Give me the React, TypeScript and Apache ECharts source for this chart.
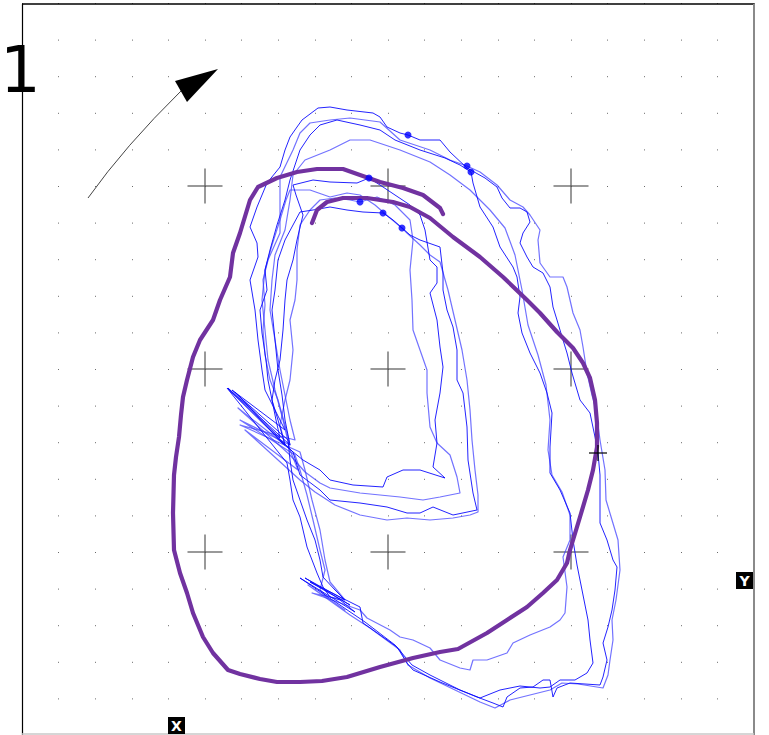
import React, { useEffect, useRef } from "react";
import * as echarts from "echarts";

// Axis frame (units: centred on the middle cross, 36.6 units per grid dot)
const axisMin = -366;
const axisMax = 366;
const dotStep = 36.6;

// Reference crosses
const crossX = [-183, 0, 183];
const crossY = [183, 0, -183];

// Small black marker cross
const markerPoint = [[210, -84]];

// Start dots of the blue traces
const startDots = [
  [20, 234], [79, 203], [83, 197], [-19, 191], [-28, 167], [-5, 156], [14, 141],
];

// Thick purple target path
const purplePath = [
  [55, 155], [52, 161], [35, 174], [15, 181], [-8, 187], [-28, 194], [-45, 200], [-71, 200],
  [-91, 197], [-111, 191], [-130, 182], [-138, 169], [-148, 136], [-155, 116], [-158, 92],
  [-168, 69], [-175, 49], [-188, 29], [-195, 12], [-201, -11], [-205, -28], [-207, -46],
  [-209, -68], [-212, -88], [-214, -106], [-215, -144], [-214, -181], [-208, -204],
  [-201, -224], [-195, -244], [-185, -268], [-175, -284], [-160, -301], [-148, -305],
  [-128, -310], [-111, -313], [-88, -313], [-66, -312], [-41, -308], [-8, -298], [25, -289],
  [52, -283], [70, -280], [99, -264], [119, -251], [139, -238], [155, -224], [169, -211],
  [179, -194], [182, -181], [192, -148], [200, -121], [205, -101], [209, -78], [209, -54],
  [207, -31], [202, -9], [195, 6], [185, 21], [169, 37], [152, 56], [139, 69], [115, 92],
  [92, 112], [65, 132], [42, 151], [22, 162], [5, 167], [-21, 171], [-45, 171], [-61, 167],
  [-71, 159], [-76, 146],
];

// Blue recorded traces – outer loops
const outer1 = [
  [20, 234], [32, 229], [52, 229], [62, 217], [79, 201], [97, 191], [109, 182], [114, 171],
  [122, 161], [132, 161], [139, 157], [142, 147], [135, 136], [132, 126], [139, 112],
  [145, 102], [155, 96], [162, 82], [165, 62], [169, 49], [175, 29], [179, 16], [184, -4],
  [192, -31], [202, -44], [207, -68], [210, -84], [212, -106], [212, -154], [219, -171],
  [225, -191], [229, -198], [227, -221], [224, -241], [220, -258], [215, -274], [219, -291],
  [215, -308], [212, -316], [182, -314], [169, -319], [165, -328], [162, -311], [155, -311],
  [145, -318], [132, -319], [119, -328], [115, -338], [105, -334], [89, -328], [52, -313],
  [25, -301], [19, -294], [9, -278], [-25, -254], [-28, -238], [-78, -213], [-38, -236],
  [-83, -209], [-43, -231], [-53, -221], [-65, -208], [-68, -191], [-73, -171], [-81, -151],
  [-88, -131], [-95, -111], [-98, -91], [-100, -71], [-156, -21], [-103, -61], [-113, -41],
  [-123, -21], [-126, -1], [-130, 29], [-133, 59], [-138, 89], [-130, 112], [-131, 126],
  [-138, 142], [-131, 162], [-121, 186], [-108, 202], [-103, 219], [-98, 232], [-91, 242],
  [-86, 249], [-70, 261], [-58, 262], [-41, 259], [-15, 256], [-8, 252], [-1, 242],
  [12, 236], [20, 234],
];
const outer2 = [
  [79, 203], [92, 197], [109, 184], [122, 169], [135, 162], [142, 154], [152, 139],
  [150, 129], [152, 106], [162, 92], [175, 92], [179, 82], [185, 56], [192, 39], [195, 22],
  [199, -4], [204, -26], [208, -41], [212, -71], [217, -101], [218, -131], [224, -151],
  [230, -171], [232, -201], [228, -231], [224, -251], [225, -271], [222, -291], [220, -306],
  [215, -319], [190, -315], [174, -314], [162, -321], [142, -326], [122, -331], [107, -339],
  [92, -333], [67, -321], [42, -309], [20, -296], [12, -281], [-18, -259], [-38, -246],
  [-80, -216], [-43, -241], [-58, -231], [-68, -221], [-63, -201], [-68, -181], [-75, -151],
  [-81, -126], [-88, -101], [-93, -86], [-148, -51], [-98, -76], [-103, -56], [-110, -31],
  [-118, -11], [-123, 14], [-125, 39], [-123, 64], [-125, 89], [-120, 109], [-108, 136],
  [-108, 169], [-108, 192], [-95, 219], [-88, 236], [-78, 246], [-58, 249], [-38, 251],
  [-8, 247], [12, 229], [42, 219], [62, 209], [79, 203],
];
const outer3 = [
  [83, 197], [85, 186], [92, 162], [105, 142], [112, 122], [125, 102], [129, 92], [132, 72],
  [130, 56], [134, 36], [142, 16], [152, -4], [159, -24], [164, -44], [162, -78], [162, -104],
  [172, -121], [182, -144], [185, -171], [189, -196], [194, -221], [200, -251], [202, -271],
  [205, -294], [199, -304], [187, -311], [172, -311], [162, -318], [152, -319], [132, -317],
  [112, -321], [92, -329], [72, -321], [42, -306], [24, -296], [7, -276], [-23, -253],
  [-88, -209], [-33, -243], [-48, -231], [-58, -228], [-65, -218], [-71, -204], [-81, -178],
  [-88, -148], [-95, -131], [-98, -111], [-101, -94], [-161, -19], [-103, -76], [-110, -51],
  [-116, -31], [-120, -11], [-122, 9], [-126, 36], [-128, 59], [-121, 79], [-123, 99],
  [-118, 119], [-111, 144], [-103, 169], [-98, 189], [-88, 219], [-78, 234], [-68, 244],
  [-51, 249], [-28, 244], [-8, 239], [7, 229], [32, 219], [57, 211], [72, 204], [83, 197],
];
const outer4 = [
  [-58, 219], [-38, 229], [-18, 229], [12, 219], [42, 207], [62, 194], [82, 179], [102, 159],
  [117, 141], [127, 114], [134, 79], [140, 44], [150, 14], [158, -16], [162, -51], [160, -81],
  [164, -106], [174, -123], [182, -146], [182, -171], [175, -188], [179, -218], [177, -244],
  [172, -251], [162, -258], [142, -266], [125, -274], [119, -284], [99, -291], [85, -291],
  [82, -301], [72, -299], [52, -291], [42, -279], [25, -271], [12, -268], [2, -261],
  [-21, -249], [-28, -241], [-76, -224], [-43, -231], [-58, -213], [-63, -191], [-68, -161],
  [-76, -131], [-83, -101], [-88, -83], [-148, -56], [-93, -71], [-98, -51], [-103, -26],
  [-108, -1], [-113, 29], [-118, 59], [-116, 89], [-113, 114], [-103, 139], [-98, 169],
  [-95, 194], [-83, 209], [-58, 219],
];

// Blue recorded traces – inner loops
const inner1 = [
  [-19, 191], [-8, 184], [7, 174], [22, 164], [32, 154], [37, 139], [42, 109], [49, 102],
  [49, 86], [42, 76], [49, 49], [52, 22], [55, 2], [52, -24], [47, -51], [49, -74], [45, -98],
  [57, -109], [32, -101], [15, -101], [-1, -108], [-5, -118], [-35, -116], [-58, -111],
  [-68, -101], [-85, -91], [-106, -74], [-153, -23], [-108, -69], [-112, -51], [-116, -31],
  [-113, -11], [-108, 9], [-105, 39], [-103, 69], [-101, 89], [-95, 109], [-91, 129],
  [-85, 154], [-92, 174], [-95, 184], [-75, 189], [-58, 187], [-31, 186], [-19, 191],
];
const inner2 = [
  [-28, 167], [-21, 169], [-11, 172], [7, 164], [22, 149], [25, 129], [22, 99], [24, 69],
  [25, 39], [32, 19], [39, -1], [39, -24], [42, -58], [49, -74], [62, -86], [69, -108],
  [72, -124], [52, -128], [35, -131], [12, -128], [-28, -124], [-58, -119], [-68, -114],
  [-83, -103], [-98, -86], [-150, -39], [-103, -76], [-108, -56], [-103, -31], [-98, -11],
  [-95, 19], [-98, 49], [-93, 69], [-91, 89], [-91, 119], [-88, 144], [-78, 159], [-68, 169],
  [-53, 171], [-38, 169], [-28, 167],
];
const inner3 = [
  [-5, 156], [5, 149], [14, 141], [22, 134], [32, 129], [52, 122], [55, 96], [55, 79],
  [59, 59], [65, 42], [69, 19], [69, -11], [75, -24], [79, -58], [80, -91], [85, -124],
  [89, -141], [65, -146], [45, -138], [32, -144], [19, -144], [-1, -138], [-28, -134],
  [-58, -131], [-68, -121], [-88, -106], [-95, -83], [-160, -19], [-98, -76], [-103, -51],
  [-106, -26], [-110, -1], [-113, 29], [-116, 59], [-113, 79], [-110, 109], [-103, 129],
  [-95, 144], [-88, 157], [-75, 159], [-58, 162], [-41, 159], [-25, 157], [-5, 156],
];
const inner4 = [
  [14, 141], [19, 136], [32, 124], [42, 114], [52, 107], [60, 79], [67, 49], [74, 19],
  [79, -11], [82, -41], [84, -71], [87, -101], [90, -126], [90, -143], [82, -146], [65, -149],
  [42, -151], [19, -149], [-1, -151], [-28, -146], [-53, -136], [-73, -123], [-88, -111],
  [-143, -61], [-90, -101], [-98, -81], [-105, -51], [-113, -21], [-120, 9], [-123, 39],
  [-126, 69], [-123, 99], [-116, 124], [-108, 149], [-102, 169], [-98, 179], [-78, 179],
  [-58, 172], [-41, 176], [-28, 174], [-13, 164], [2, 151], [14, 141],
];

const darkTraces = [outer1, outer3, inner1, inner3];
const lightTraces = [outer2, outer4, inner2, inner4];

export default function App() {
  const ref = useRef<HTMLDivElement>(null);

  useEffect(() => {
    if (!ref.current) return;
    const chart = echarts.init(ref.current, undefined, { renderer: "svg" });

    const crossPts: number[][] = [];
    crossX.forEach((x) => crossY.forEach((y) => crossPts.push([x, y])));

    const traceSeries = (data: number[][], color: string, width: number) => ({
      type: "line",
      data,
      showSymbol: false,
      symbol: "none",
      silent: true,
      z: 3,
      lineStyle: { color, width, join: "round" },
      emphasis: { disabled: true },
    });

    const option: any = {
      animation: false,
      backgroundColor: "#ffffff",
      grid: { left: 22, top: 3, width: 732, height: 732, containLabel: false },
      xAxis: {
        type: "value",
        min: axisMin,
        max: axisMax,
        interval: dotStep,
        axisLine: { show: false },
        axisTick: { show: false },
        axisLabel: { show: false },
        splitLine: {
          show: true,
          lineStyle: { color: "#6a6a6a", width: 1, type: [1, dotStep - 1] },
        },
      },
      yAxis: {
        type: "value",
        min: axisMin,
        max: axisMax,
        interval: dotStep,
        axisLine: { show: false },
        axisTick: { show: false },
        axisLabel: { show: false },
        splitLine: { show: false },
      },
      series: [
        {
          type: "scatter",
          data: crossPts,
          symbol: "rect",
          symbolSize: [35, 1.5],
          itemStyle: { color: "#555555" },
          silent: true,
          z: 2,
        },
        {
          type: "scatter",
          data: crossPts,
          symbol: "rect",
          symbolSize: [1.5, 35],
          itemStyle: { color: "#555555" },
          silent: true,
          z: 2,
        },
        ...lightTraces.map((d) => traceSeries(d, "rgba(60,60,255,0.72)", 1.2)),
        ...darkTraces.map((d) => traceSeries(d, "#0a0aff", 0.9)),
        {
          type: "line",
          data: purplePath,
          showSymbol: false,
          symbol: "none",
          silent: true,
          z: 4,
          lineStyle: { color: "#7132a0", width: 4.2, cap: "round", join: "round" },
        },
        {
          type: "scatter",
          data: startDots,
          symbol: "circle",
          symbolSize: 7,
          itemStyle: { color: "#0000ff" },
          silent: true,
          z: 5,
        },
        {
          type: "scatter",
          data: markerPoint,
          symbol: "rect",
          symbolSize: [18, 1.5],
          itemStyle: { color: "#000000" },
          silent: true,
          z: 6,
        },
        {
          type: "scatter",
          data: markerPoint,
          symbol: "rect",
          symbolSize: [1.5, 16],
          itemStyle: { color: "#000000" },
          silent: true,
          z: 6,
        },
      ],
      graphic: [
        { type: "line", shape: { x1: 22, y1: 4, x2: 754, y2: 4 }, style: { stroke: "#000", lineWidth: 1.5 }, z: 10 },
        { type: "line", shape: { x1: 22.5, y1: 4, x2: 22.5, y2: 735 }, style: { stroke: "#000", lineWidth: 1.2 }, z: 10 },
        { type: "line", shape: { x1: 754, y1: 4, x2: 754, y2: 735 }, style: { stroke: "#8a8a8a", lineWidth: 2 }, z: 10 },
        { type: "line", shape: { x1: 22, y1: 734, x2: 754, y2: 734 }, style: { stroke: "#c8c8c8", lineWidth: 1.5 }, z: 10 },
        {
          type: "text",
          x: 0,
          y: 70,
          z: 11,
          style: {
            text: "1",
            font: "64px 'DejaVu Sans'",
            fill: "#000",
            verticalAlign: "middle",
            align: "left",
          },
        },
        {
          type: "bezierCurve",
          shape: { x1: 88, y1: 198, cpx1: 125, cpy1: 146, x2: 181, y2: 91 },
          style: { stroke: "#444", lineWidth: 1, fill: "none" },
          z: 10,
        },
        {
          type: "polygon",
          shape: { points: [[175, 81], [218, 69], [187, 102]] },
          style: { fill: "#000" },
          z: 10,
        },
        { type: "rect", shape: { x: 736, y: 572, width: 17, height: 17 }, style: { fill: "#000" }, z: 11 },
        {
          type: "text",
          x: 744.5,
          y: 581,
          z: 12,
          style: { text: "Y", font: "bold 14px 'DejaVu Sans'", fill: "#fff", align: "center", verticalAlign: "middle" },
        },
        { type: "rect", shape: { x: 168, y: 717, width: 17, height: 17 }, style: { fill: "#000" }, z: 11 },
        {
          type: "text",
          x: 176.5,
          y: 726,
          z: 12,
          style: { text: "X", font: "bold 14px 'DejaVu Sans'", fill: "#fff", align: "center", verticalAlign: "middle" },
        },
      ],
    };

    chart.setOption(option);
    return () => chart.dispose();
  }, []);

  return (
    <div
      ref={ref}
      style={{ position: "absolute", left: 0, top: 0, width: 769, height: 735, background: "#fff" }}
    />
  );
}
